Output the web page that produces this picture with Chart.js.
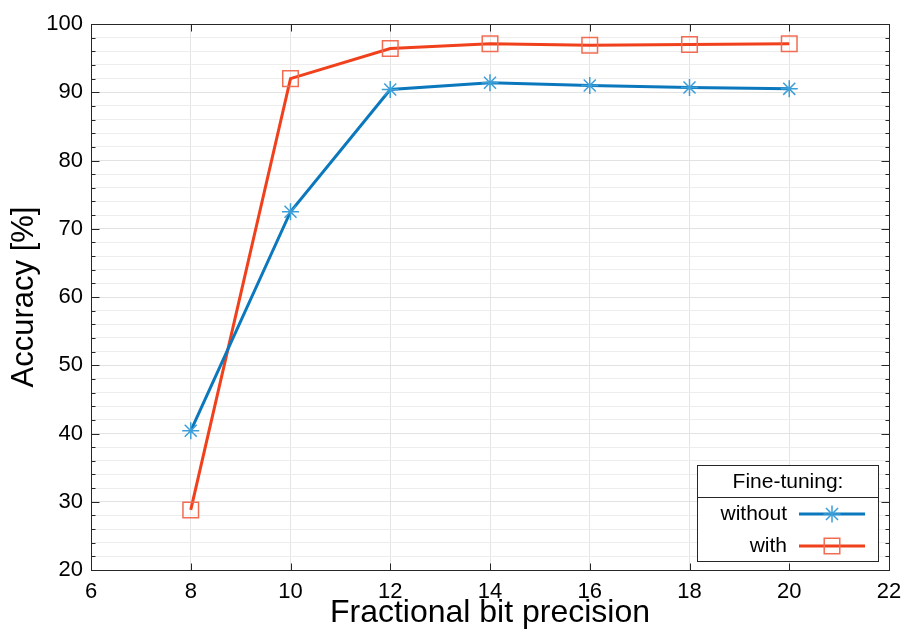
<!DOCTYPE html>
<html>
<head>
<meta charset="utf-8">
<script src="https://cdn.jsdelivr.net/npm/chart.js@4/dist/chart.umd.min.js"></script>
<style>
  body { margin: 0; background: #fff; }
  #wrap { width: 904px; height: 637px; }
</style>
</head>
<body>
<div id="wrap"><canvas id="accChart" width="904" height="637"></canvas></div>
<script>
// values
const bits = [8, 10, 12, 14, 16, 18, 20];
const withoutFT = [40.4, 72.5, 90.4, 91.4, 91.0, 90.7, 90.5];
const withFT = [28.8, 92.0, 96.4, 97.1, 96.9, 97.0, 97.1];
const seriesNames = ["without", "with"];
const legendTitle = "Fine-tuning:";
const xTicks = [6, 8, 10, 12, 14, 16, 18, 20, 22];
const yTicks = [20, 30, 40, 50, 60, 70, 80, 90, 100];

const FONT = "'Liberation Sans', Arial, Helvetica, sans-serif";
const blue = "#0b78bd", blueMark = "#3c9fd8";
const red = "#f0401c", redMark = "#f26c52";

const toPoints = (vals) => vals.map((v, i) => ({ x: bits[i], y: v }));

// axis box with inward ticks (matlab style) + boxed legend
const axesBox = {
  id: "axesBox",
  afterDraw(chart) {
    const { ctx, chartArea: a, scales } = chart;
    const xs = scales.x, ys = scales.y;
    const L = Math.round(a.left) + 0.5, R = Math.round(a.right) + 0.5;
    const T = Math.round(a.top) + 0.5, B = Math.round(a.bottom) + 0.5;
    ctx.save();
    ctx.strokeStyle = "#262626";
    ctx.lineWidth = 1;
    ctx.strokeRect(L, T, R - L, B - T);
    ctx.beginPath();
    xTicks.forEach((v) => {
      const px = Math.round(xs.getPixelForValue(v)) + 0.5;
      ctx.moveTo(px, B); ctx.lineTo(px, B - 7);
      ctx.moveTo(px, T); ctx.lineTo(px, T + 7);
    });
    for (let v = ys.min; v <= ys.max; v += 2) {
      const py = Math.round(ys.getPixelForValue(v)) + 0.5;
      const len = v % 10 === 0 ? 8 : 4;
      ctx.moveTo(L, py); ctx.lineTo(L + len, py);
      ctx.moveTo(R, py); ctx.lineTo(R - len, py);
    }
    ctx.stroke();

    // legend
    const bx = 697.5, by = 465.5, bw = 181, bh = 96, div = 497.5;
    ctx.fillStyle = "#fff";
    ctx.fillRect(bx, by, bw, bh);
    ctx.strokeRect(bx, by, bw, bh);
    ctx.beginPath();
    ctx.moveTo(bx, div); ctx.lineTo(bx + bw, div);
    ctx.stroke();
    ctx.fillStyle = "#000";
    ctx.font = "21px " + FONT;
    ctx.textBaseline = "middle";
    ctx.textAlign = "center";
    ctx.fillText(legendTitle, 788, 482);
    ctx.textAlign = "right";
    chart.data.datasets.forEach((ds, i) => {
      const ly = 514 + i * 32;
      ctx.fillStyle = "#000";
      ctx.fillText(ds.label, 787, ly);
      ctx.strokeStyle = ds.borderColor;
      ctx.lineWidth = 3;
      ctx.beginPath();
      ctx.moveTo(799, ly); ctx.lineTo(865, ly);
      ctx.stroke();
      ctx.fillStyle = "rgba(0,0,0,0)";
      ctx.strokeStyle = ds.pointBorderColor;
      ctx.lineWidth = ds.pointBorderWidth;
      Chart.helpers.drawPoint(ctx, {
        pointStyle: ds.pointStyle, radius: ds.pointRadius, borderWidth: ds.pointBorderWidth
      }, 832, ly);
    });
    ctx.restore();
  }
};

const ctx = document.getElementById("accChart").getContext("2d");
new Chart(ctx, {
  type: "line",
  data: {
    datasets: [
      {
        label: seriesNames[0],
        data: toPoints(withoutFT),
        borderColor: blue,
        borderWidth: 3,
        pointStyle: "star",
        pointRadius: 8.5,
        pointBorderColor: blueMark,
        pointBackgroundColor: "rgba(0,0,0,0)",
        pointBorderWidth: 1.5,
        tension: 0,
      },
      {
        label: seriesNames[1],
        data: toPoints(withFT),
        borderColor: red,
        borderWidth: 3,
        pointStyle: "rect",
        pointRadius: 11,
        pointBorderColor: redMark,
        pointBackgroundColor: "rgba(0,0,0,0)",
        pointBorderWidth: 1.5,
        tension: 0,
      },
    ],
  },
  options: {
    responsive: false,
    animation: false,
    layout: { padding: { left: 0, top: 24, right: 15, bottom: 0 } },
    scales: {
      x: {
        type: "linear",
        min: xTicks[0],
        max: xTicks[xTicks.length - 1],
        afterBuildTicks: (s) => { s.ticks = xTicks.map((v) => ({ value: v })); },
        afterFit: (s) => { s.height = 67; s.paddingLeft = 0; s.paddingRight = 0; },
        ticks: { color: "#000", font: { family: FONT, size: 22 }, padding: 9, maxRotation: 0 },
        grid: { color: "#e4e4e4", drawTicks: false },
        border: { display: false },
        title: {
          display: true, text: "Fractional bit precision", color: "#000",
          font: { family: FONT, size: 32 }, padding: { top: 0, bottom: 5 },
        },
      },
      y: {
        min: yTicks[0],
        max: yTicks[yTicks.length - 1],
        afterFit: (s) => { s.width = 91; s.paddingTop = 0; s.paddingBottom = 0; },
        ticks: {
          stepSize: 2,
          autoSkip: false,
          color: "#000",
          font: { family: FONT, size: 22 },
          padding: 8,
          callback: (v) => (yTicks.includes(v) ? v : ""),
        },
        grid: {
          drawTicks: false,
          color: (c) => (c.tick && c.tick.value % 10 === 0 ? "#e2e2e2" : "#ededed"),
        },
        border: { display: false },
        title: {
          display: true, text: "Accuracy [%]", color: "#000",
          font: { family: FONT, size: 31 }, padding: { top: 6, bottom: 0 },
        },
      },
    },
    plugins: { legend: { display: false }, tooltip: { enabled: false } },
  },
  plugins: [axesBox],
});
</script>
</body>
</html>
